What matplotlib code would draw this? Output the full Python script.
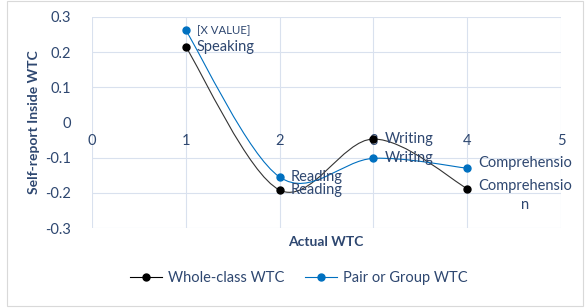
import matplotlib
matplotlib.use("Agg")
import matplotlib.pyplot as plt
from matplotlib.path import Path
from matplotlib.patches import PathPatch, Rectangle
from matplotlib.lines import Line2D

# data
actual_wtc = [1, 2, 3, 4]
whole_class = [0.215, -0.192, -0.047, -0.188]
pair_group = [0.262, -0.155, -0.102, -0.130]
whole_labels = ["Speaking", "Reading", "Writing", "Comprehensio\nn"]
pair_labels = ["[X VALUE]", "Reading", "Writing", "Comprehensio"]

TEXT = "#2E4770"
GRID = "#D9E1EE"
BLACK = "#000000"
BLUE = "#0070C0"

plt.rcParams["font.family"] = ["Lato", "DejaVu Sans"]


def smooth_path(xs, ys):
    # excel-like smoothed line: cubic bezier segments (catmull-rom control points)
    pts = list(zip(xs, ys))
    verts = [pts[0]]
    codes = [Path.MOVETO]
    n = len(pts)
    for i in range(n - 1):
        p0 = pts[i - 1] if i > 0 else pts[i]
        p1 = pts[i]
        p2 = pts[i + 1]
        p3 = pts[i + 2] if i + 2 < n else pts[i + 1]
        c1 = (p1[0] + (p2[0] - p0[0]) / 6, p1[1] + (p2[1] - p0[1]) / 6)
        c2 = (p2[0] - (p3[0] - p1[0]) / 6, p2[1] - (p3[1] - p1[1]) / 6)
        verts += [c1, c2, p2]
        codes += [Path.CURVE4] * 3
    return Path(verts, codes)


fig = plt.figure(figsize=(5.86, 3.08), dpi=100)
ax = fig.add_axes([92 / 586, 1 - 228 / 308, (561 - 92) / 586, (228 - 17) / 308])

ax.add_patch(PathPatch(smooth_path(actual_wtc, whole_class), fill=False,
                       edgecolor="#333333", lw=0.8, zorder=3))
ax.add_patch(PathPatch(smooth_path(actual_wtc, pair_group), fill=False,
                       edgecolor=BLUE, lw=0.8, zorder=3))
ax.plot(actual_wtc, whole_class, "o", color=BLACK, ms=5, zorder=4)
ax.plot(actual_wtc, pair_group, "o", color=BLUE, ms=5, zorder=4)

for x, y, lab in zip(actual_wtc, whole_class, whole_labels):
    dy = -5 if "\n" in lab else 0
    ax.annotate(lab, (x, y), xytext=(8, dy), textcoords="offset points",
                ha="left", va="center", fontsize=10.5, color=TEXT,
                multialignment="center", linespacing=1.5, zorder=5)
for x, y, lab in zip(actual_wtc, pair_group, pair_labels):
    fs = 8.2 if lab.startswith("[") else 10.5
    dy = 4 if lab.startswith("Compre") else 0
    ax.annotate(lab, (x, y), xytext=(8, dy), textcoords="offset points",
                ha="left", va="center", fontsize=fs, color=TEXT, zorder=5)

ax.set_xlim(0, 5)
ax.set_ylim(-0.3, 0.3)
ax.set_xticks(range(0, 6))
ax.set_yticks([-0.3, -0.2, -0.1, 0, 0.1, 0.2, 0.3])
ax.set_yticklabels(["-0.3", "-0.2", "-0.1", "0", "0.1", "0.2", "0.3"])

for s in ax.spines.values():
    s.set_visible(False)
ax.spines["bottom"].set_position(("data", 0))
ax.tick_params(length=0, labelsize=10.5, labelcolor=TEXT)
ax.tick_params(axis="x", pad=8)
ax.tick_params(axis="y", pad=15)

ax.grid(True, color=GRID, lw=0.8)
for gl, v in zip(ax.get_ygridlines(), ax.get_yticks()):
    if abs(v) < 1e-9:
        gl.set_visible(False)
ax.set_axisbelow(True)

ax.set_ylabel("Self-report Inside WTC", fontsize=10, fontweight="bold",
              color=TEXT, labelpad=4)
fig.text(326 / 586, 1 - 242 / 308, "Actual WTC", ha="center", va="center",
         fontsize=10, fontweight="bold", color=TEXT)

handles = [
    Line2D([], [], color=BLACK, lw=0.8, marker="o", ms=5),
    Line2D([], [], color=BLUE, lw=0.8, marker="o", ms=5),
]
fig.legend(handles, ["Whole-class WTC", "Pair or Group WTC"], ncol=2,
           loc="center", bbox_to_anchor=(299 / 586, 1 - 278 / 308),
           frameon=False, fontsize=10.5, labelcolor=TEXT, handlelength=2.2,
           columnspacing=1.4, handletextpad=0.4)

fig.patches.append(Rectangle((7 / 586, 2 / 308), 576 / 586, 305 / 308,
                             transform=fig.transFigure, fill=False,
                             edgecolor="#D9D9D9", lw=0.8))

fig.savefig("out.png", dpi=100)
